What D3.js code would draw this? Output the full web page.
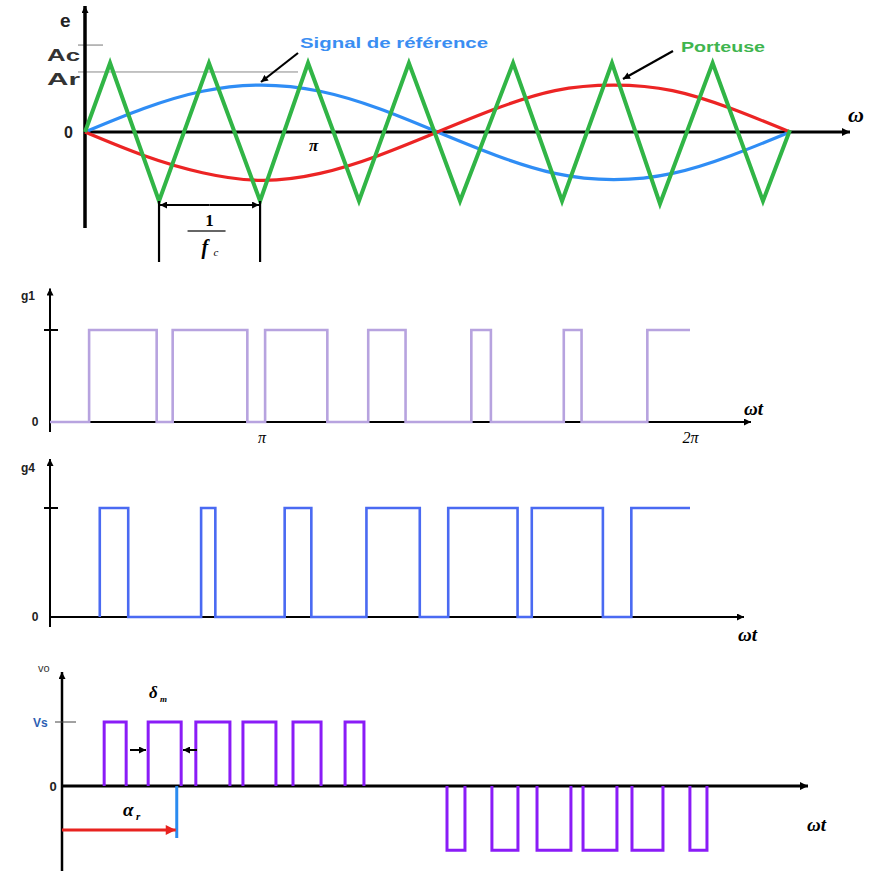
<!DOCTYPE html>
<html><head><meta charset="utf-8">
<script src="https://cdn.jsdelivr.net/npm/d3@7"></script>
<style>body{margin:0;background:#fff}svg{display:block}</style>
</head><body>
<svg id="c" width="869" height="871"></svg>
<script>
// ---------------- data (ωt in degrees) ----------------
const carrierVertices = [[0,0],[12.8,1],[37.8,-1],[63.3,1],[89.4,-1],[113.9,1],[139.9,-1],[165.4,1],[191.5,-1],[218.6,1],[243.6,-1],[269.1,1],[293.6,-1.04],[320.5,1],[346.2,-1],[360,0.03]];
const referenceSignal = [[0,0],[30,0.34],[60,0.59],[90,0.68],[120,0.59],[150,0.34],[180,0],[210,-0.34],[240,-0.6],[270,-0.69],[300,-0.6],[330,-0.34],[360,0]];
const referenceInverted = [[0,0],[30,-0.34],[60,-0.59],[90,-0.7],[120,-0.6],[150,-0.34],[180,0],[210,0.34],[240,0.6],[270,0.68],[300,0.6],[330,0.34],[360,0]];
const levelNames = ["Ac","Ar"];
const levelValues = [1.26, 0.87];
const periodMarks = [37.8, 89.4];           // trough to trough = 1/fc
const topTickValues = [116.5];               // label "π" position as drawn
const topTickLabels = ["π"];

const g1Pulses = [[22,60],[69,111],[121,156],[179,200],[237,248],[289,299],[336,360]];
const g4Pulses = [[28,44],[85,93],[132,147],[178,208],[224,263],[271,311],[327,360]];
const gTickValues = [119, 360];
const gTickLabels = ["π","2π"];

const voPositive = [[23,35],[47,65],[73,91.6],[98.7,116.7],[126,141.3],[154.4,164.7]];
const voNegative = [[210,219.8],[234.5,248.7],[259.1,277.6],[284.2,302.7],[310.9,327.8],[342.5,351.8]];
const deltaEdges = [46.9, 64.9];
const alphaR = 61.5;

// ---------------- setup ----------------
const svg = d3.select("#c");
const defs = svg.append("defs");
function marker(id, color, w, h){
  defs.append("marker").attr("id",id).attr("viewBox","0 0 10 10")
    .attr("refX",10).attr("refY",5).attr("markerWidth",w).attr("markerHeight",h)
    .attr("markerUnits","userSpaceOnUse").attr("orient","auto-start-reverse")
    .append("path").attr("d","M0,0L10,5L0,10z").attr("fill",color);
}
marker("ab","#000",10,8);
marker("abS","#000",8,7);
marker("ar","#e8231f",12,10);

const serif = "'Liberation Serif','DejaVu Serif',serif";
const sans = "'Liberation Sans',Arial,sans-serif";

function arrowLine(g,x1,y1,x2,y2,w,mk,color){
  return g.append("line").attr("x1",x1).attr("y1",y1).attr("x2",x2).attr("y2",y2)
    .attr("stroke",color||"#000").attr("stroke-width",w).attr("marker-end",mk?`url(#${mk})`:null);
}
function txt(g,x,y,s,size,opt={}){
  const t=g.append("text").attr("x",x).attr("y",y).text(s)
    .attr("font-size",size).attr("font-family",opt.family||sans)
    .attr("fill",opt.fill||"#000").attr("text-anchor",opt.anchor||"start");
  if(opt.weight) t.attr("font-weight",opt.weight);
  if(opt.italic) t.attr("font-style","italic");
  if(opt.len) t.attr("textLength",opt.len).attr("lengthAdjust","spacingAndGlyphs");
  return t;
}

// ================= Panel 1 : modulation =================
const p1 = svg.append("g");
const x1 = d3.scaleLinear().domain([0,360]).range([85,790]);
const y1 = d3.scaleLinear().domain([-1,1]).range([201,63]);

// level guide lines
p1.append("line").attr("x1",78).attr("x2",103).attr("y1",y1(levelValues[0])).attr("y2",y1(levelValues[0])).attr("stroke","#777").attr("stroke-width",1);
p1.append("line").attr("x1",78).attr("x2",298).attr("y1",y1(levelValues[1])).attr("y2",y1(levelValues[1])).attr("stroke","#888").attr("stroke-width",1);
txt(p1,47,y1(levelValues[0])+16,levelNames[0],17,{len:33,fill:"#333",weight:"bold"});
txt(p1,47,y1(levelValues[1])+13,levelNames[1],17,{len:33,fill:"#333",weight:"bold"});
txt(p1,60,27,"e",19,{weight:"bold",fill:"#222"});
txt(p1,64,y1(0)+6,"0",16,{weight:"bold",fill:"#222"});

// axes
arrowLine(p1,x1(0),228,x1(0),6,3.5,"abS");
arrowLine(p1,x1(0),y1(0),850,y1(0),3,"ab");
txt(p1,848,y1(0)-10,"ω",22,{family:serif,italic:true,weight:"bold"});
const ax1 = d3.axisBottom(x1).tickValues(topTickValues).tickFormat((d,i)=>topTickLabels[i]).tickSize(0);
p1.append("g").attr("transform",`translate(0,${y1(0)})`).call(ax1)
  .call(g=>g.select(".domain").remove())
  .selectAll("text").attr("font-family",serif).attr("font-style","italic").attr("font-weight","bold").attr("font-size",17).attr("dy","0.95em");

const lineFn = d3.line().x(d=>x1(d[0])).y(d=>y1(d[1]));
const smooth = d3.line().x(d=>x1(d[0])).y(d=>y1(d[1])).curve(d3.curveNatural);
p1.append("path").attr("d",smooth(referenceSignal)).attr("fill","none").attr("stroke","#2f8df5").attr("stroke-width",3.2);
p1.append("path").attr("d",smooth(referenceInverted)).attr("fill","none").attr("stroke","#ec2424").attr("stroke-width",3.2);
p1.append("path").attr("d",lineFn(carrierVertices)).attr("fill","none").attr("stroke","#31b546").attr("stroke-width",4).attr("stroke-linejoin","miter");

// 1/fc dimension
const xa = x1(periodMarks[0]), xb = x1(periodMarks[1]);
[xa,xb].forEach(x=>p1.append("line").attr("x1",x).attr("x2",x).attr("y1",y1(-1)).attr("y2",262).attr("stroke","#000").attr("stroke-width",2.2));
const mid=(xa+xb)/2;
arrowLine(p1,mid,205,xa+1,205,1.8,"abS");
arrowLine(p1,mid,205,xb-1,205,1.8,"abS");
txt(p1,mid,226,"1",17,{family:serif,anchor:"middle",weight:"bold"});
p1.append("line").attr("x1",mid-22).attr("x2",mid+16).attr("y1",231).attr("y2",231).attr("stroke","#333").attr("stroke-width",1.5);
txt(p1,mid-8,254,"f",20,{family:serif,italic:true,weight:"bold"});
txt(p1,mid+4,256,"c",11,{family:serif,italic:true});

// callouts
txt(p1,300,48,"Signal de référence",14,{weight:"bold",fill:"#3a8ef2",len:188});
arrowLine(p1,298,53,261,82,2.2,"abS");
txt(p1,681,52,"Porteuse",14,{weight:"bold",fill:"#3fb54f",len:84});
arrowLine(p1,673,51,623,79,2.2,"abS");

// ================= Panel 2 : g1 =================
const xg = d3.scaleLinear().domain([0,360]).range([50,690]);
function pulseTrain(pulses,startLow){
  const pts=[];
  if(startLow) pts.push([0,0]);
  pulses.forEach(([a,b])=>{ pts.push([a,0],[a,1],[b,1]); if(b<360) pts.push([b,0]); });
  return pts;
}
function gPanel(yScale,pulses,startLow,color,label,axisEnd,labelPos,showTicks){
  const g=svg.append("g");
  const y0=yScale(0), yT=yScale(1);
  arrowLine(g,xg(0),y0+10,xg(0),yScale(1.45),2,"abS");
  arrowLine(g,xg(0),y0,axisEnd,y0,2.2,"abS");
  g.append("line").attr("x1",xg(0)-6).attr("x2",xg(0)+8).attr("y1",yT).attr("y2",yT).attr("stroke","#000").attr("stroke-width",2);
  txt(g,xg(0)-15,y0+4,"0",12,{weight:"bold",anchor:"middle",fill:"#222"});
  txt(g,xg(0)-15,yScale(1.33),label,12,{weight:"bold",anchor:"end",fill:"#222"});
  const ln=d3.line().x(d=>xg(d[0])).y(d=>yScale(d[1]));
  g.append("path").attr("d",ln(pulseTrain(pulses,startLow))).attr("fill","none").attr("stroke",color).attr("stroke-width",2.6);
  txt(g,labelPos[0],labelPos[1],"ωt",19,{family:serif,italic:true,weight:"bold"});
  if(showTicks){
    const ax=d3.axisBottom(xg).tickValues(gTickValues).tickFormat((d,i)=>gTickLabels[i]).tickSize(0);
    g.append("g").attr("transform",`translate(0,${y0})`).call(ax)
      .call(s=>s.select(".domain").remove())
      .selectAll("text").attr("font-family",serif).attr("font-style","italic").attr("font-size",16).attr("dy","1.1em");
  }
  return g;
}
const yg1 = d3.scaleLinear().domain([0,1]).range([422,330]);
gPanel(yg1,g1Pulses,true,"#b7a3df","g1",751,[744,415],true);
const yg4 = d3.scaleLinear().domain([0,1]).range([617,508]);
gPanel(yg4,g4Pulses,false,"#4a6af2","g4",744,[738,641],false);

// ================= Panel 4 : vo =================
const p4 = svg.append("g");
const xv = d3.scaleLinear().domain([0,360]).range([62,722]);
const yv = d3.scaleLinear().domain([-1.06,1]).range([854,722]);
arrowLine(p4,xv(0),871,xv(0),672,2.5,"abS");
arrowLine(p4,xv(0),yv(0),808,yv(0),3,"ab");
p4.append("line").attr("x1",55).attr("x2",76).attr("y1",yv(1)).attr("y2",yv(1)).attr("stroke","#444").attr("stroke-width",1);
txt(p4,33,yv(1)+5,"Vs",12,{fill:"#2d5fb3",weight:"bold"});
txt(p4,53,yv(0)+5,"0",13,{weight:"bold",anchor:"middle",fill:"#222"});
txt(p4,38,672,"vo",11,{fill:"#333"});
txt(p4,807,831,"ωt",19,{family:serif,italic:true,weight:"bold"});
const lv = d3.line().x(d=>xv(d[0])).y(d=>yv(d[1]));
voPositive.forEach(([a,b])=>p4.append("path").attr("d",lv([[a,0],[a,1],[b,1],[b,0]])).attr("fill","none").attr("stroke","#8a1cf7").attr("stroke-width",3));
voNegative.forEach(([a,b])=>p4.append("path").attr("d",lv([[a,0],[a,-1],[b,-1],[b,0]])).attr("fill","none").attr("stroke","#8a1cf7").attr("stroke-width",3));
// delta arrows
const yd = 750;
arrowLine(p4,xv(deltaEdges[0])-18,yd,xv(deltaEdges[0])-2,yd,2,"abS");
arrowLine(p4,xv(deltaEdges[1])+16,yd,xv(deltaEdges[1])+2,yd,2,"abS");
txt(p4,149,698,"δ",17,{family:serif,italic:true,weight:"bold"});
txt(p4,160,702,"m",9,{family:serif,italic:true,weight:"bold"});
// alpha
p4.append("line").attr("x1",xv(alphaR)+2).attr("x2",xv(alphaR)+2).attr("y1",yv(0)).attr("y2",838).attr("stroke","#2a8bf0").attr("stroke-width",3);
arrowLine(p4,xv(0),830,xv(alphaR)+1,830,3,"ar","#e8231f");
txt(p4,123,816,"α",19,{family:serif,italic:true,weight:"bold"});
txt(p4,136,820,"r",11,{family:serif,italic:true,weight:"bold"});
</script>
</body></html>
